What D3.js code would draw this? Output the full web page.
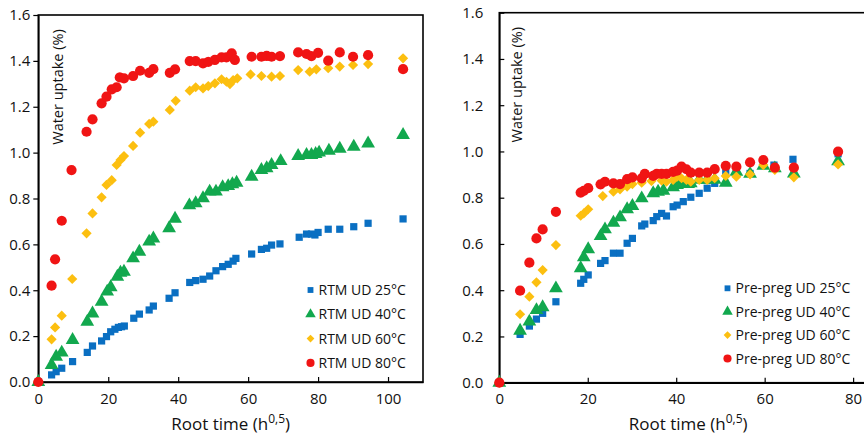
<!DOCTYPE html>
<html>
<head>
<meta charset="utf-8">
<script src="https://cdn.jsdelivr.net/npm/d3@7/dist/d3.min.js"></script>
<style>
  body { margin: 0; background: #fff; }
  svg text { font-family: "Open Sans", "Noto Sans", sans-serif; fill: #111; }
</style>
</head>
<body>
<div id="chart"></div>
<script>
// RTM UD (left panel), [root time, water uptake %]
const rtm25 = [[0,0],[3.8,0.031],[5.1,0.045],[6.7,0.06],[9.8,0.089],[14,0.129],[15.5,0.157],[18.1,0.179],[19.5,0.198],[20.7,0.219],[21.9,0.23],[22.9,0.238],[23.8,0.241],[24.6,0.244],[27.3,0.278],[28.9,0.296],[31.7,0.314],[32.9,0.331],[37.4,0.365],[39.1,0.389],[43.3,0.434],[45,0.442],[47.1,0.448],[49,0.462],[50.8,0.485],[52.7,0.503],[54.3,0.513],[55.7,0.527],[56.5,0.539],[61,0.558],[63.8,0.578],[65.3,0.583],[66.7,0.597],[69.1,0.602],[74.6,0.631],[76.7,0.645],[78.1,0.645],[79.1,0.641],[80,0.652],[82.9,0.666],[86.2,0.666],[90.2,0.677],[94.3,0.692],[104.3,0.711]]
const rtm40 = [[0,0],[3.8,0.074],[5.1,0.11],[6.7,0.128],[9.8,0.183],[14,0.263],[15.5,0.299],[18.1,0.35],[19.7,0.394],[20.7,0.413],[22.6,0.459],[23.5,0.476],[24.5,0.481],[27.1,0.539],[28.9,0.568],[31.7,0.612],[32.9,0.626],[37.4,0.67],[39.1,0.712],[43.2,0.77],[45,0.779],[47.1,0.801],[49,0.83],[50.8,0.83],[52.7,0.849],[54.3,0.854],[55.5,0.862],[56.7,0.869],[61,0.895],[63.8,0.924],[65.3,0.932],[66.7,0.946],[69.3,0.963],[74.3,0.985],[76.7,0.99],[78.1,0.99],[79.3,0.994],[80.3,1.0],[83.1,1.008],[86.2,1.017],[90.2,1.026],[94.3,1.04],[104.3,1.077]]
const rtm60 = [[0,0],[3.8,0.186],[4.8,0.238],[6.7,0.289],[9.7,0.449],[13.8,0.648],[15.5,0.735],[18.1,0.805],[19.5,0.859],[21,0.88],[22.4,0.946],[23.5,0.968],[24.5,0.985],[27.1,1.029],[29.1,1.087],[31.7,1.125],[32.9,1.135],[37.6,1.186],[39.3,1.226],[43.3,1.27],[45,1.285],[47.1,1.28],[48.6,1.29],[50.5,1.302],[52.4,1.32],[53.8,1.309],[54.8,1.299],[55.7,1.316],[56.9,1.324],[60.7,1.341],[63.8,1.334],[66.7,1.331],[69.1,1.334],[74.3,1.36],[77.6,1.353],[79.5,1.363],[82.9,1.368],[86.2,1.375],[90,1.382],[94.3,1.386],[104.3,1.411]]
const rtm80 = [[0,0],[3.8,0.42],[4.8,0.535],[6.7,0.703],[9.5,0.924],[13.8,1.091],[15.5,1.145],[18.1,1.215],[19.5,1.244],[21,1.276],[22.4,1.285],[23.3,1.328],[24.5,1.324],[27.1,1.334],[29.1,1.357],[31.7,1.348],[32.9,1.364],[37.6,1.348],[39.1,1.363],[43.3,1.399],[45,1.399],[47.1,1.389],[48.6,1.396],[50.5,1.404],[52.4,1.415],[53.8,1.415],[55.3,1.433],[56.2,1.404],[61,1.418],[63.8,1.418],[65.3,1.422],[66.7,1.418],[69.1,1.421],[74.3,1.437],[76.7,1.43],[78.1,1.421],[80,1.435],[82.9,1.401],[86.2,1.437],[90,1.418],[94.3,1.425],[104.3,1.364]]

// Pre-preg UD (right panel)
const pre25 = [[0,0],[4.7,0.209],[6.8,0.245],[8.4,0.275],[9.8,0.3],[12.8,0.35],[18.4,0.43],[19.1,0.447],[20.1,0.466],[22.9,0.516],[23.9,0.528],[25.8,0.56],[27.3,0.56],[28.9,0.603],[30.1,0.624],[32.2,0.678],[32.9,0.686],[34.8,0.701],[35.6,0.718],[36.7,0.732],[37.8,0.721],[39.3,0.761],[40.2,0.768],[41.6,0.783],[43.3,0.802],[45.2,0.819],[47,0.841],[48.7,0.862],[51.2,0.908],[53.6,0.917],[56.7,0.905],[59.7,0.946],[62.1,0.941],[66.4,0.966],[76.6,0.99]]
const pre40 = [[0,0],[4.7,0.225],[6.8,0.264],[8.4,0.314],[9.8,0.326],[12.8,0.408],[18.4,0.495],[19.1,0.542],[20.1,0.577],[22.9,0.634],[23.9,0.663],[25.8,0.692],[27.3,0.715],[28.9,0.75],[30.1,0.764],[32.2,0.797],[34.8,0.819],[35.9,0.826],[37.1,0.83],[39.3,0.845],[40.2,0.855],[41.2,0.862],[42.7,0.859],[43.3,0.862],[45.2,0.877],[47,0.877],[48.7,0.877],[51.2,0.865],[53.6,0.912],[56.7,0.903],[59.7,0.938],[62.3,0.927],[66.6,0.905],[76.6,0.958]]
const pre60 = [[0,0],[4.7,0.296],[6.8,0.372],[8.4,0.434],[9.8,0.487],[12.8,0.595],[18.4,0.722],[19.1,0.732],[20.1,0.75],[23.4,0.807],[25.8,0.826],[27.3,0.836],[28.9,0.848],[30.1,0.859],[32.2,0.865],[34.4,0.872],[36.7,0.874],[37.8,0.869],[39.3,0.877],[40.2,0.891],[41.2,0.884],[42.3,0.877],[43.3,0.869],[45.2,0.877],[47,0.877],[48.7,0.884],[51.2,0.894],[53.6,0.891],[56.7,0.901],[59.7,0.941],[62.3,0.92],[66.6,0.888],[76.6,0.944]]
const pre80 = [[0,0],[4.7,0.398],[6.8,0.519],[8.4,0.624],[9.8,0.663],[12.8,0.739],[18.4,0.822],[19.1,0.83],[20.1,0.841],[22.9,0.858],[23.9,0.869],[25.8,0.862],[27.3,0.859],[28.9,0.88],[30.1,0.888],[32.2,0.884],[32.9,0.903],[34.8,0.894],[35.6,0.903],[36.7,0.903],[37.8,0.903],[39.3,0.912],[40.2,0.917],[41.2,0.934],[42.3,0.923],[43.3,0.908],[45.2,0.908],[47,0.908],[48.7,0.924],[51.2,0.938],[53.6,0.934],[56.7,0.953],[59.7,0.963],[62.3,0.93],[66.6,0.93],[76.6,0.999]]

const temps = ["25°C", "40°C", "60°C", "80°C"]
const colors = ["#0a6fc2", "#12a84e", "#fcbf10", "#f01414"]
// Raute = Quadrat um 45° gedreht (wie Excel)
const shapes = [d3.symbolSquare, d3.symbolTriangle, d3.symbolSquare, d3.symbolCircle]
const turns = [0, 0, 45, 0]
const sizes = [52, 82, 52, 82]          // Symbolflaeche im Plot
const legendSizes = [34, 48, 30, 52]

const xTicks = [0, 20, 40, 60, 80, 100]
const yTicks = [0, 0.2, 0.4, 0.6, 0.8, 1.0, 1.2, 1.4, 1.6]

const W = 864, H = 439
const svg = d3.select("#chart").append("svg")
  .attr("width", W).attr("height", H)

function drawPanel(p) {
  const x = d3.scaleLinear().domain([0, p.xMax]).range([p.left, p.right])
  const y = d3.scaleLinear().domain([0, 1.6]).range([p.bottom, p.top])
  const g = svg.append("g")

  // Rahmen
  g.append("rect")
    .attr("x", p.left).attr("y", p.top)
    .attr("width", p.right - p.left).attr("height", p.bottom - p.top)
    .attr("fill", "none").attr("stroke", "#000").attr("stroke-width", 1.6)

  // x-Achse, Ticks nach innen
  const xa = g.append("g")
    .attr("transform", "translate(0," + p.bottom + ")")
    .call(d3.axisBottom(x).tickValues(xTicks.filter(t => t <= p.xMax))
      .tickSizeInner(-5).tickSizeOuter(0).tickPadding(11).tickFormat(d3.format("d")))
  xa.select(".domain").attr("stroke-width", 1.6)
  xa.selectAll(".tick line").attr("stroke-width", 1.2)
  xa.selectAll("text").style("font-size", "15px")

  // y-Achse
  const ya = g.append("g")
    .attr("transform", "translate(" + p.left + ",0)")
    .call(d3.axisLeft(y).tickValues(yTicks)
      .tickSizeInner(p.yTickIn ? -5 : 5).tickSizeOuter(0).tickPadding(p.yPad).tickFormat(d3.format(".1f")))
  ya.select(".domain").attr("stroke-width", 1.6)
  ya.selectAll(".tick line").attr("stroke-width", 1.2)
  ya.selectAll("text").style("font-size", "15px")

  // Punkte, 25°C zuerst, 80°C oben
  p.series.forEach((s, i) => {
    g.append("g").selectAll("path")
      .data(s)
      .enter()
      .append("path")
      .attr("transform", d => "translate(" + x(d[0]) + "," + y(d[1]) + ") rotate(" + turns[i] + ")")
      .attr("d", d3.symbol().type(shapes[i]).size(sizes[i]))
      .attr("fill", colors[i])
  })

  // Achsentitel
  g.append("text")
    .attr("transform", "translate(" + p.yTitleX + "," + (p.top + 72) + ") rotate(-90)")
    .attr("text-anchor", "middle")
    .style("font-size", "14.5px")
    .text("Water uptake (%)")

  const xt = g.append("text")
    .attr("x", (p.left + p.right) / 2).attr("y", 430)
    .attr("text-anchor", "middle")
    .style("font-size", "17px")
  xt.append("tspan").text("Root time (h")
  xt.append("tspan").attr("dy", -7).style("font-size", "12px").text("0,5")
  xt.append("tspan").attr("dy", 7).text(")")

  // Legende
  const lg = g.append("g")
    .attr("transform", "translate(" + p.legX + "," + p.legY + ")")
  temps.forEach((t, i) => {
    const row = lg.append("g").attr("transform", "translate(0," + i * p.legStep + ")")
    row.append("path")
      .attr("transform", "rotate(" + turns[i] + ")")
      .attr("d", d3.symbol().type(shapes[i]).size(legendSizes[i]))
      .attr("fill", colors[i])
    row.append("text")
      .attr("x", 8).attr("y", 5)
      .style("font-size", "14px")
      .text(p.label + " " + t)
  })
}

drawPanel({
  left: 38.3, right: 423, top: 15, bottom: 382, xMax: 110,
  yTickIn: false, yPad: 3, yTitleX: 63,
  series: [rtm25, rtm40, rtm60, rtm80],
  label: "RTM UD", legX: 310.5, legY: 290, legStep: 24.3
})

drawPanel({
  left: 499.3, right: 877, top: 12.7, bottom: 382.7, xMax: 85.4,
  yTickIn: true, yPad: 16, yTitleX: 522,
  series: [pre25, pre40, pre60, pre80],
  label: "Pre-preg UD", legX: 727.5, legY: 288.3, legStep: 23.4
})
</script>
</body>
</html>
